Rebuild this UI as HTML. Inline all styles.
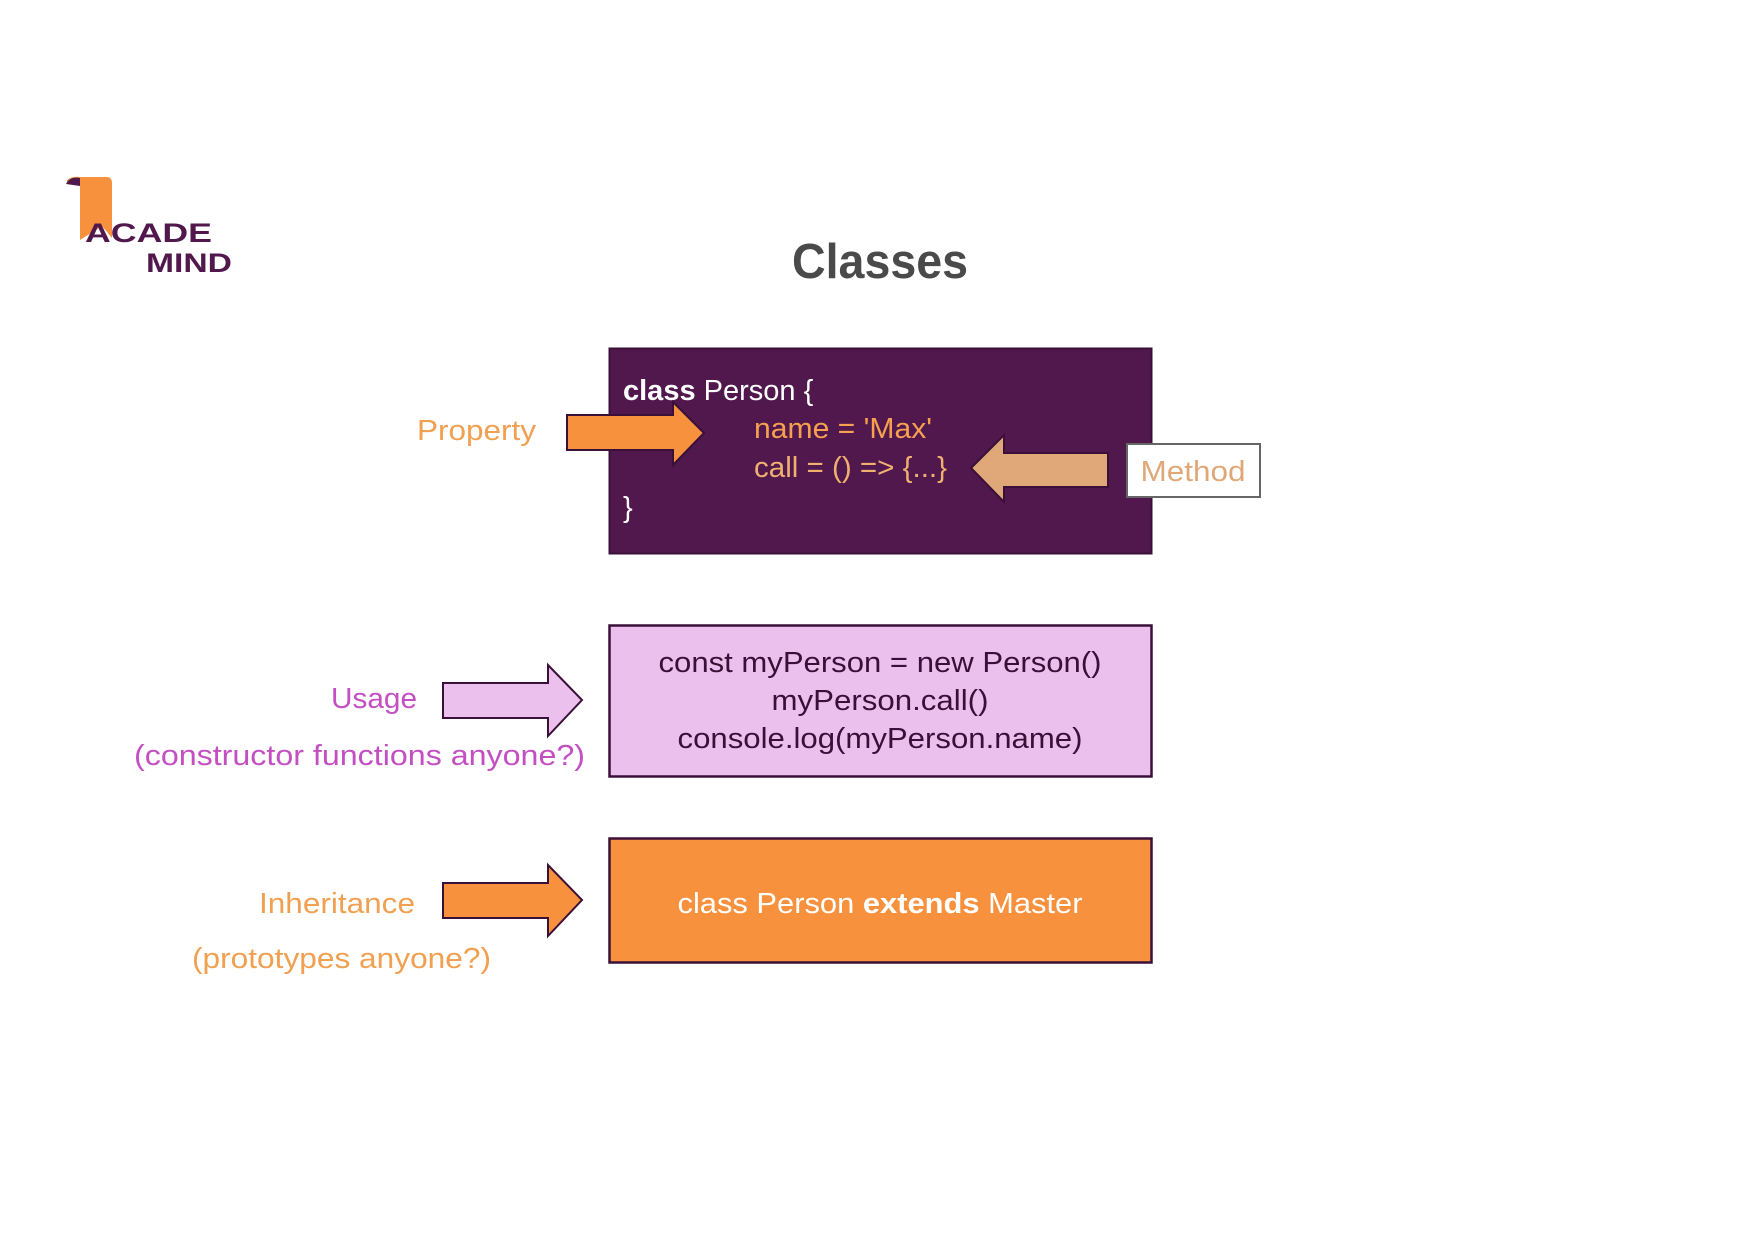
<!DOCTYPE html>
<html><head><meta charset="utf-8"><style>
html,body{margin:0;padding:0;background:#fff;}
svg{display:block;font-family:"Liberation Sans",sans-serif;}
</style></head><body>
<svg width="1754" height="1240" viewBox="0 0 1754 1240" xmlns="http://www.w3.org/2000/svg">
<rect width="1754" height="1240" fill="#fff"/>
<!-- logo -->
<path d="M67 180 Q72 176 80 177 L108 177 Q112 178 112 183 L112 238 L102 226 L80 240 L80 186 Q74 181 67 184 Z" fill="#f7913d"/>
<path d="M66 184 Q70 176 80 178 L80 186 Z" fill="#50184c"/>
<text x="85" y="242" font-size="27" font-weight="bold" fill="#50184c" textLength="127" lengthAdjust="spacingAndGlyphs">ACADE</text>
<text x="146" y="272" font-size="27" font-weight="bold" fill="#50184c" textLength="86" lengthAdjust="spacingAndGlyphs">MIND</text>
<!-- title -->
<text x="792" y="278" font-size="49" font-weight="bold" fill="#4a4a4a" textLength="176" lengthAdjust="spacingAndGlyphs">Classes</text>
<!-- purple box -->
<rect x="609.5" y="348.5" width="542" height="205" fill="#50184c" stroke="#3a1038" stroke-width="2"/>
<text x="623" y="400" font-size="29" fill="#fff"><tspan font-weight="bold">class</tspan> Person {</text>
<text x="754" y="438" font-size="29" fill="#f7a050" textLength="178" lengthAdjust="spacingAndGlyphs">name = 'Max'</text>
<text x="754" y="477" font-size="29" fill="#f0b070" textLength="193" lengthAdjust="spacingAndGlyphs">call = () =&gt; {...}</text>
<text x="623" y="517" font-size="29" fill="#fff">}</text>
<!-- property -->
<text x="536" y="440" font-size="29" fill="#f0a050" text-anchor="end" textLength="119" lengthAdjust="spacingAndGlyphs">Property</text>
<polygon points="567,415 673,415 673,402 704,433 673,465 673,450 567,450" fill="#f7913d" stroke="#3a1038" stroke-width="2"/>
<!-- method -->
<polygon points="1108,453 1004,453 1004,435 971,468 1004,502 1004,487 1108,487" fill="#e0a878" stroke="#3a1038" stroke-width="2"/>
<rect x="1127" y="444" width="133" height="53" fill="#fff" stroke="#666" stroke-width="2"/>
<text x="1193" y="481" font-size="29" fill="#e0a878" text-anchor="middle" textLength="105" lengthAdjust="spacingAndGlyphs">Method</text>
<!-- usage -->
<rect x="609.5" y="625.5" width="542" height="151" fill="#ecc0ec" stroke="#3a1038" stroke-width="2.5"/>
<text x="880" y="672" font-size="29" fill="#3a1038" text-anchor="middle" textLength="443" lengthAdjust="spacingAndGlyphs">const myPerson = new Person()</text>
<text x="880" y="710" font-size="29" fill="#3a1038" text-anchor="middle" textLength="217" lengthAdjust="spacingAndGlyphs">myPerson.call()</text>
<text x="880" y="748" font-size="29" fill="#3a1038" text-anchor="middle" textLength="405" lengthAdjust="spacingAndGlyphs">console.log(myPerson.name)</text>
<polygon points="443,683 548,683 548,665 582,700 548,736 548,718 443,718" fill="#ecc0ec" stroke="#3a1038" stroke-width="2"/>
<text x="417" y="708" font-size="29" fill="#c34fc3" text-anchor="end" textLength="86" lengthAdjust="spacingAndGlyphs">Usage</text>
<text x="134" y="765" font-size="29" fill="#c34fc3" textLength="451" lengthAdjust="spacingAndGlyphs">(constructor functions anyone?)</text>
<!-- inheritance -->
<rect x="609.5" y="838.5" width="542" height="124" fill="#f7913d" stroke="#3a1038" stroke-width="2.5"/>
<text x="880" y="913" font-size="29" fill="#fff" text-anchor="middle" textLength="405" lengthAdjust="spacingAndGlyphs">class Person <tspan font-weight="bold">extends</tspan> Master</text>
<polygon points="443,883 548,883 548,865 582,900 548,936 548,918 443,918" fill="#f7913d" stroke="#3a1038" stroke-width="2"/>
<text x="415" y="913" font-size="29" fill="#f0a050" text-anchor="end" textLength="156" lengthAdjust="spacingAndGlyphs">Inheritance</text>
<text x="192" y="968" font-size="29" fill="#f0a050" textLength="299" lengthAdjust="spacingAndGlyphs">(prototypes anyone?)</text>
</svg>
</body></html>
